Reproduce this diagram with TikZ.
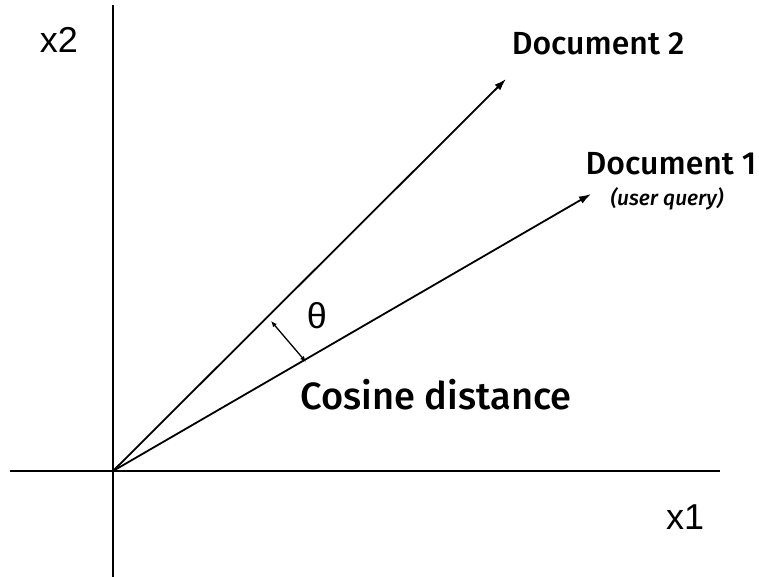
\documentclass[tikz,border=0pt]{standalone}
\usepackage{fontspec}
\setmainfont{Fira Sans}
\newfontfamily\docfont{Fira Sans}[UprightFont={* Medium},ItalicFont={* Medium Italic}]
\newfontfamily\axisfont{Liberation Sans}
\usetikzlibrary{arrows.meta,positioning,calc}

\begin{document}
\begin{tikzpicture}[
  x=1pt, y=-1pt,
  every node/.style={inner sep=0pt, anchor=base},
  axis/.style={line width=2pt},
  vec/.style={line width=1.8pt, -{Latex[length=12pt,width=8pt]}},
  gap/.style={line width=1.3pt, {Latex[length=6pt,width=5pt]}-{Latex[length=6pt,width=5pt]}},
  axislabel/.style={font=\axisfont\fontsize{36}{36}\selectfont},
  doclabel/.style={font=\docfont\fontsize{32}{32}\selectfont},
  notelabel/.style={font=\docfont\itshape\fontsize{21}{21}\selectfont}
]
  \useasboundingbox (0,0) rectangle (759,577);

  % --- Achsen ---
  \coordinate (O) at (113,471);
  \coordinate (xl) at (10,471);
  \coordinate (xr) at (720,471);
  \coordinate (yt) at (113,5);
  \coordinate (yb) at (113,577);
  \draw[axis] (xl) -- (xr);
  \draw[axis] (yb) -- (yt);
  \node[axislabel] (x1) at (685,529) {x1};
  \node[axislabel] (x2) at (59,53) {x2};

  % --- Vektoren ---
  \coordinate (d2) at (506,79);
  \coordinate (d1) at (591,194);
  \draw[vec] (O) -- (d2);
  \draw[vec] (O) -- (d1);
  \node[doclabel] (doc2) at (598,55) {Document 2};
  \node[doclabel] (doc1) at (671,175) {Document 1};
  \node[notelabel] (query) at (667,206) {(user query)};

  % --- Winkel ---
  \coordinate (ga) at (271,321);
  \coordinate (gb) at (306,362);
  \draw[gap] (ga) -- (gb);
  \node[axislabel] (theta) at (317,328) {θ};
  \node[doclabel, font=\docfont\fontsize{38}{38}\selectfont] (cosd) at (436,409) {Cosine distance};
\end{tikzpicture}
\end{document}
